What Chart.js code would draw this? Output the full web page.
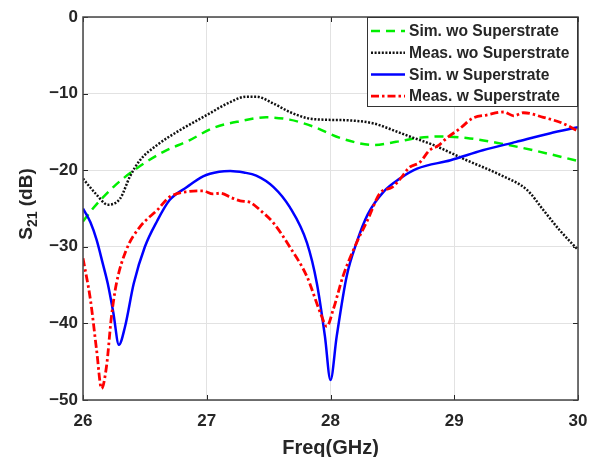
<!DOCTYPE html>
<html>
<head>
<meta charset="utf-8">
<script src="https://cdn.jsdelivr.net/npm/chart.js@4"></script>
<style>
  html, body { margin: 0; padding: 0; background: #fff; }
  #wrap { width: 589px; height: 457px; }
</style>
</head>
<body>
<div id="wrap"><canvas id="s21-chart" width="589" height="457"></canvas></div>
<script>
// --- data ---
const xTickValues = [26, 27, 28, 29, 30];
const yTickValues = [0, -10, -20, -30, -40, -50];

const seriesLabels = ['Sim. wo Superstrate', 'Meas. wo Superstrate', 'Sim. w Superstrate', 'Meas. w Superstrate'];

const freqSimWo = [26.0, 26.07, 26.245, 26.43, 26.65, 26.86, 27.05, 27.27, 27.48, 27.67, 27.86, 28.08, 28.35, 28.53, 28.7, 28.88, 29.1, 29.37, 29.64, 30.0];
const s21SimWo = [-26.7, -25.2, -22.2, -19.8, -17.6, -16.1, -14.5, -13.6, -13.1, -13.4, -14.3, -15.8, -16.7, -16.3, -15.8, -15.6, -15.8, -16.5, -17.4, -18.8];

const freqMeasWo = [26.0, 26.11, 26.2, 26.3, 26.38, 26.46, 26.6, 26.78, 27.0, 27.19, 27.32, 27.4, 27.54, 27.67, 27.81, 27.94, 28.16, 28.35, 28.51, 28.64, 28.83, 29.1, 29.37, 29.59, 29.72, 29.85, 30.0];
const s21MeasWo = [-21.1, -23.2, -24.5, -23.7, -20.8, -18.7, -16.7, -14.8, -12.8, -11.1, -10.4, -10.4, -11.3, -12.4, -13.2, -13.4, -13.5, -13.9, -14.8, -15.6, -16.7, -18.7, -20.6, -22.6, -25.2, -27.8, -30.4];

const freqSimW = [26.0, 26.06, 26.11, 26.16, 26.2, 26.245, 26.29, 26.34, 26.41, 26.5, 26.6, 26.7, 26.84, 26.97, 27.1, 27.19, 27.3, 27.4, 27.54, 27.67, 27.81, 27.89, 27.955, 28.0, 28.05, 28.13, 28.21, 28.3, 28.43, 28.56, 28.7, 28.97, 29.23, 29.5, 29.77, 30.0];
const s21SimW = [-25.0, -26.8, -29.1, -32.2, -34.8, -38.6, -42.8, -40.4, -34.8, -30.0, -26.6, -23.9, -22.2, -20.8, -20.2, -20.1, -20.3, -20.7, -22.2, -24.8, -29.5, -34.8, -41.7, -47.4, -41.7, -33.9, -29.5, -25.8, -22.8, -21.1, -19.8, -18.7, -17.4, -16.3, -15.2, -14.4];

const freqMeasW = [26.0, 26.06, 26.11, 26.15, 26.19, 26.23, 26.27, 26.35, 26.46, 26.6, 26.7, 26.84, 26.97, 27.05, 27.11, 27.2, 27.27, 27.35, 27.43, 27.54, 27.67, 27.81, 27.92, 27.97, 28.02, 28.1, 28.21, 28.3, 28.4, 28.5, 28.56, 28.64, 28.72, 28.8, 28.87, 28.94, 29.05, 29.15, 29.26, 29.4, 29.48, 29.56, 29.72, 29.88, 30.0];
const s21MeasW = [-31.5, -36.9, -43.5, -48.5, -45.6, -39.1, -34.8, -30.4, -27.4, -25.2, -23.5, -22.8, -22.7, -23.1, -23.0, -23.6, -24.0, -24.2, -25.2, -26.9, -30.0, -33.9, -38.7, -40.4, -38.3, -33.9, -29.5, -26.5, -23.0, -22.2, -21.2, -19.6, -19.0, -17.4, -16.8, -15.8, -14.5, -13.2, -12.8, -12.4, -12.9, -12.5, -13.1, -13.9, -14.9];

// --- helpers ---
const toPoints = (xs, ys) => xs.map((x, i) => ({ x, y: ys[i] }));
const FONT = "'Liberation Sans', Arial, sans-serif";
const TEXT_COLOR = '#262626';

const lineStyles = [
    { color: '#00ee00', width: 2.5, dash: [9, 6] },
    { color: '#111111', width: 2.5, dash: [2, 1.6] },
    { color: '#0000ff', width: 2.5, dash: [] },
    { color: '#ff0000', width: 2.8, dash: [8, 3, 2.5, 3] },
];

const seriesData = [
    toPoints(freqSimWo, s21SimWo),
    toPoints(freqMeasWo, s21MeasWo),
    toPoints(freqSimW, s21SimW),
    toPoints(freqMeasW, s21MeasW),
];

// 테두리, 안쪽 눈금, 범례, 축 제목
const framePlugin = {
    id: 'framePlugin',
    afterDatasetsDraw(chart) {
        const { ctx, chartArea: a, scales } = chart;
        ctx.save();
        ctx.strokeStyle = TEXT_COLOR;
        ctx.lineWidth = 1;
        ctx.beginPath();
        xTickValues.forEach(v => {
            const px = Math.round(scales.x.getPixelForValue(v)) + 0.5;
            ctx.moveTo(px, a.bottom); ctx.lineTo(px, a.bottom - 5);
            ctx.moveTo(px, a.top); ctx.lineTo(px, a.top + 5);
        });
        yTickValues.forEach(v => {
            const py = Math.round(scales.y.getPixelForValue(v)) + 0.5;
            ctx.moveTo(a.left, py); ctx.lineTo(a.left + 5, py);
            ctx.moveTo(a.right, py); ctx.lineTo(a.right - 5, py);
        });
        ctx.stroke();

        ctx.strokeStyle = '#444';
        ctx.lineWidth = 1.5;
        ctx.strokeRect(a.left, a.top, a.right - a.left, a.bottom - a.top);

        // legend box
        const bx = 367, by = a.top, bw = a.right - bx, bh = 90;
        ctx.fillStyle = '#fff';
        ctx.fillRect(bx, by, bw, bh);
        ctx.strokeStyle = '#333';
        ctx.lineWidth = 1;
        ctx.strokeRect(bx + 0.5, by + 0.5, bw - 1, bh - 1);
        ctx.font = `bold 15.6px ${FONT}`;
        ctx.textBaseline = 'middle';
        ctx.textAlign = 'left';
        seriesLabels.forEach((label, i) => {
            const st = lineStyles[i];
            const y = by + 14 + i * 21.7;
            ctx.strokeStyle = st.color;
            ctx.lineWidth = st.width;
            ctx.setLineDash(st.dash);
            ctx.beginPath();
            ctx.moveTo(371, y); ctx.lineTo(405, y);
            ctx.stroke();
            ctx.setLineDash([]);
            ctx.fillStyle = TEXT_COLOR;
            ctx.fillText(label, 409, y + 1);
        });
        ctx.restore();
    },
    afterDraw(chart) {
        const { ctx, chartArea: a } = chart;
        ctx.save();
        ctx.fillStyle = TEXT_COLOR;
        ctx.textBaseline = 'alphabetic';
        ctx.textAlign = 'center';
        ctx.font = `bold 20px ${FONT}`;
        ctx.fillText('Freq(GHz)', (a.left + a.right) / 2, 454);

        // y title with subscript
        ctx.translate(32, 204);
        ctx.rotate(-Math.PI / 2);
        ctx.textAlign = 'left';
        const big = `bold 19px ${FONT}`, small = `bold 14px ${FONT}`;
        ctx.font = big; const wS = ctx.measureText('S').width;
        const wTail = ctx.measureText(' (dB)').width;
        ctx.font = small; const wSub = ctx.measureText('21').width;
        let x = -(wS + wSub + wTail) / 2;
        ctx.font = big; ctx.fillText('S', x, 0); x += wS;
        ctx.font = small; ctx.fillText('21', x, 5); x += wSub;
        ctx.font = big; ctx.fillText(' (dB)', x, 0);
        ctx.restore();
    }
};

const datasets = seriesData.map((data, i) => ({
    label: seriesLabels[i],
    data,
    borderColor: lineStyles[i].color,
    borderWidth: lineStyles[i].width,
    borderDash: lineStyles[i].dash,
    pointRadius: 0,
    fill: false,
    cubicInterpolationMode: 'monotone',
    order: 4 - i,
}));

const minusSign = v => (v < 0 ? '\u2212' + Math.abs(v) : String(v));

new Chart(document.getElementById('s21-chart'), {
    type: 'line',
    data: { datasets },
    options: {
        responsive: false,
        animation: false,
        devicePixelRatio: 1,
        layout: { padding: { top: 17, right: 11, left: 0, bottom: 0 } },
        plugins: { legend: { display: false }, tooltip: { enabled: false } },
        scales: {
            x: {
                type: 'linear',
                min: 26, max: 30,
                afterFit: s => { s.height = 57; s.paddingLeft = 0; s.paddingRight = 0; },
                afterBuildTicks: s => { s.ticks = xTickValues.map(v => ({ value: v })); },
                ticks: { font: { family: FONT, size: 17, weight: 'bold' }, color: TEXT_COLOR, padding: 11, maxRotation: 0, callback: minusSign },
                grid: { color: '#e2e2e2', drawTicks: false },
                border: { display: false },
            },
            y: {
                min: -50, max: 0,
                afterFit: s => { s.width = 83; s.paddingTop = 0; s.paddingBottom = 0; },
                afterBuildTicks: s => { s.ticks = yTickValues.map(v => ({ value: v })); },
                ticks: { font: { family: FONT, size: 17, weight: 'bold' }, color: TEXT_COLOR, padding: 5, callback: minusSign },
                grid: { color: '#e2e2e2', drawTicks: false },
                border: { display: false },
            }
        }
    },
    plugins: [framePlugin]
});
</script>
</body>
</html>
